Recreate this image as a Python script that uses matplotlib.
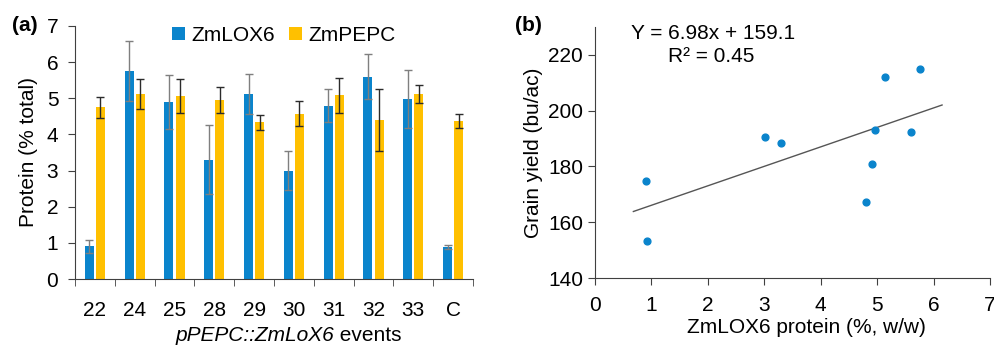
import matplotlib
matplotlib.use("Agg")
from matplotlib import pyplot as plt
import numpy as np

plt.rcParams["font.family"] = ["Liberation Sans", "DejaVu Sans"]
plt.rcParams["font.size"] = 15

# (a) protein levels per event
events = ["22", "24", "25", "28", "29", "30", "31", "32", "33", "C"]
lox6 = [0.90, 5.75, 4.90, 3.30, 5.12, 3.00, 4.80, 5.60, 4.97, 0.88]
lox6_err = [0.17, 0.83, 0.75, 0.96, 0.56, 0.55, 0.45, 0.62, 0.80, 0.06]
pepc = [4.75, 5.12, 5.05, 4.95, 4.33, 4.57, 5.08, 4.40, 5.12, 4.37]
pepc_err = [0.29, 0.42, 0.47, 0.35, 0.20, 0.35, 0.48, 0.85, 0.24, 0.20]

# (b) grain yield vs ZmLOX6 protein
prot = [0.90, 0.93, 3.01, 3.30, 4.81, 4.90, 4.97, 5.14, 5.60, 5.76]
yld = [174.8, 153.3, 190.4, 188.3, 167.1, 180.8, 193.2, 212.1, 192.3, 215.0]
slope, intercept = 6.98, 159.1
fit_range = [0.68, 6.15]

blue = "#0a84cc"
orange = "#ffc000"
axc = "#404040"

fig = plt.figure(figsize=(9.95, 3.46), dpi=100)

################################################################################
# (a)
################################################################################
ax1 = fig.add_axes([0.0754, 0.1936, 0.4000, 0.7313])
x = np.arange(len(events))
w = 0.225
ax1.bar(x - 0.14, lox6, w, color=blue, label="ZmLOX6",
        yerr=lox6_err, error_kw=dict(ecolor="#7f7f7f", elinewidth=1, capsize=3, capthick=1))
ax1.bar(x + 0.14, pepc, w, color=orange, label="ZmPEPC",
        yerr=pepc_err, error_kw=dict(ecolor="#2b2b2b", elinewidth=1, capsize=3, capthick=1))

ax1.set_xlim(-0.5, 9.5)
ax1.set_ylim(0, 7)
ax1.set_yticks(range(0, 8))
ax1.set_xticks(x)
ax1.set_xticklabels(events)
ax1.set_xticks(np.arange(-0.5, 10, 1), minor=True)
ax1.tick_params(axis="x", which="major", length=0, pad=16)
ax1.tick_params(axis="x", which="minor", length=5, direction="out", color=axc)
ax1.tick_params(axis="y", length=5, direction="out", color=axc, pad=7)
for s in ["top", "right"]:
    ax1.spines[s].set_visible(False)
for s in ["left", "bottom"]:
    ax1.spines[s].set_color(axc)
ax1.set_ylabel("Protein (% total)", labelpad=6)
ax1.legend(loc="upper center", bbox_to_anchor=(0.525, 1.075), ncol=2, frameon=False,
           handlelength=0.6, handleheight=0.6, handletextpad=0.3, columnspacing=0.7)

# x label: italic construct name + plain "events"
t1 = fig.text(0.176, 0.03, "pPEPC::ZmLoX6", fontstyle="italic", ha="left", va="center")
ax1.annotate(" events", xy=(1, 0), xycoords=t1, va="bottom", ha="left")
fig.text(0.012, 0.925, "(a)", fontweight="bold", va="center")

################################################################################
# (b)
################################################################################
ax2 = fig.add_axes([0.598, 0.1965, 0.397, 0.7255])
ax2.scatter(prot, yld, s=24, color=blue, zorder=3)
xf = np.array(fit_range)
ax2.plot(xf, slope * xf + intercept, color="#555555", linewidth=1)
ax2.set_xlim(0, 7)
ax2.set_ylim(140, 230)
ax2.set_yticks(range(140, 221, 20))
ax2.set_xticks(range(0, 8))
ax2.tick_params(length=5, direction="out", color=axc)
ax2.tick_params(axis="x", pad=8)
for s in ["top", "right"]:
    ax2.spines[s].set_visible(False)
for s in ["left", "bottom"]:
    ax2.spines[s].set_color(axc)
ax2.set_ylabel("Grain yield (bu/ac)", labelpad=4)
ax2.set_xlabel("ZmLOX6 protein (%, w/w)", labelpad=3)
ax2.xaxis.set_label_coords(0.535, -0.16)
ax2.text(2.1, 227.5, "Y = 6.98x + 159.1", ha="center", va="center")
ax2.text(2.05, 219.5, "R² = 0.45", ha="center", va="center")
fig.text(0.518, 0.925, "(b)", fontweight="bold", va="center")

plt.savefig("out.png", dpi=100)
